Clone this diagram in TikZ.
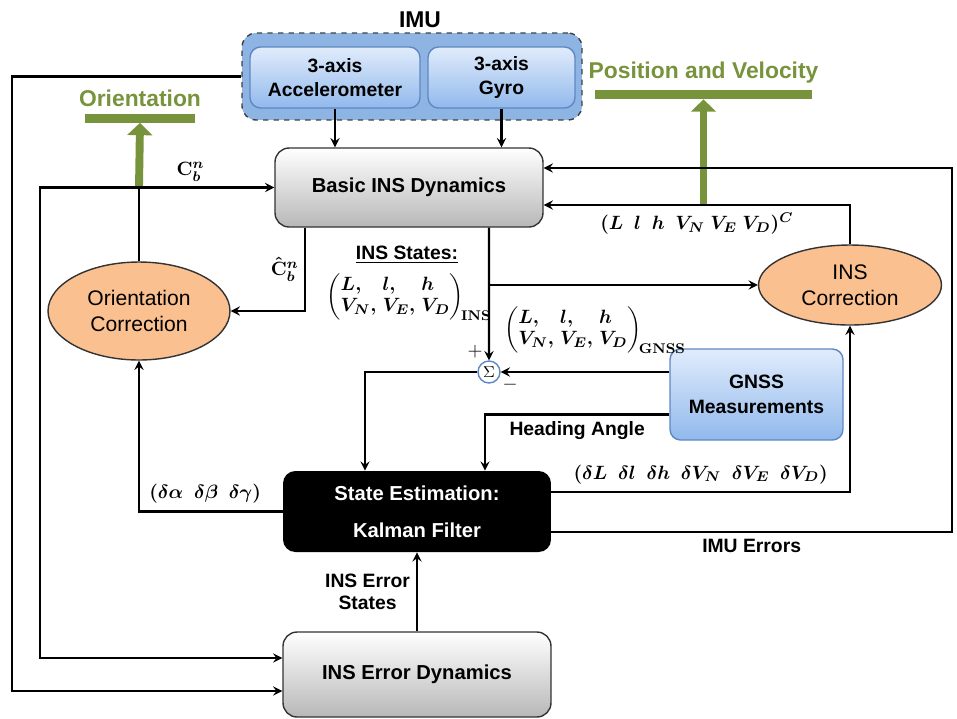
\documentclass[tikz,border=0pt]{standalone}
\usepackage{amsmath}
\usepackage{amssymb}
\usepackage[no-math]{fontspec}
\setmainfont{Liberation Sans}
\usepackage{tikz}
\usetikzlibrary{shapes.geometric, arrows, arrows.meta, positioning, calc}
\definecolor{outgreen}{RGB}{119,147,60}
\definecolor{corrorange}{RGB}{250,192,143}
\definecolor{imublue}{RGB}{141,180,226}
\definecolor{sensortop}{RGB}{225,236,252}
\definecolor{sensorbot}{RGB}{145,185,236}
\definecolor{sensorline}{RGB}{95,135,195}
\tikzstyle{dynbox} = [rectangle, rounded corners=8pt, minimum width=5.36cm, text centered, draw=black!80, line width=0.8pt, top color=white, bottom color=black!28, font=\fontsize{11.5}{14}\selectfont\bfseries]
\tikzstyle{kfbox} = [rectangle, rounded corners=7pt, minimum width=5.36cm, minimum height=1.62cm, align=center, fill=black, text=white, font=\fontsize{11.5}{21}\selectfont\bfseries]
\tikzstyle{sensor} = [rectangle, rounded corners=6pt, align=center, draw=sensorline, line width=0.8pt, top color=sensortop, bottom color=sensorbot, font=\fontsize{11}{14}\selectfont\bfseries]
\tikzstyle{imubox} = [rectangle, rounded corners=8pt, draw=black!75, dashed, line width=0.8pt, fill=imublue]
\tikzstyle{correction} = [ellipse, align=center, draw=black!80, line width=0.8pt, fill=corrorange, inner sep=0pt, font=\fontsize{12}{15}\selectfont]
\tikzstyle{sumnode} = [circle, draw=sensorline, fill=white, line width=0.8pt, minimum size=0.44cm, inner sep=0pt, font=\small]
\tikzstyle{outbar} = [rectangle, fill=outgreen, inner sep=0pt, minimum height=0.18cm]
\tikzstyle{outlbl} = [text=outgreen, font=\fontsize{13}{15}\selectfont\bfseries]
\tikzstyle{lbl} = [font=\fontsize{11}{13}\selectfont\bfseries]
\tikzstyle{mathlbl} = [font=\fontsize{11}{13}\selectfont\boldmath, inner sep=1pt]
\tikzstyle{arrow} = [line width=1.3pt, ->, >=stealth]
\tikzstyle{plain} = [line width=1.3pt]
\tikzstyle{outarrow} = [line width=4.5pt, draw=outgreen, -{Triangle[width=14pt,length=7pt]}]
\newcommand{\statevec}[1]{$\left(\begin{array}{@{}l@{\;}l@{\;}l@{}} L, & l, & h\\[-1pt] V_N, & V_E, & V_D\end{array}\right)_{\!\mathrm{#1}}$}

\begin{document}
\begin{tikzpicture}[x=0.02cm, y=-0.02cm]
\useasboundingbox (0,0) rectangle (957,718);

% IMU
\node (imu) [imubox, minimum width=6.8cm, minimum height=1.74cm] at (412,76.5) {};
\node (imulbl) [outlbl, text=black] at (420,20) {IMU};
\node (acc) [sensor, minimum width=3.4cm, minimum height=1.22cm] at (335,77.5) {3-axis\\Accelerometer};
\node (gyro) [sensor, minimum width=2.94cm, minimum height=1.22cm] at (501.5,77.5) {3-axis\\Gyro};

% Main blocks
\node (basic) [dynbox, minimum height=1.58cm] at (409,187.5) {Basic INS Dynamics};
\node (kalman) [kfbox] at (417,511.5) {State Estimation:\\Kalman Filter};
\node (errdyn) [dynbox, minimum height=1.7cm] at (417,674.5) {INS Error Dynamics};
\node (gnss) [sensor, minimum width=3.46cm, minimum height=1.82cm] at (756.5,394.5) {GNSS\\Measurements};
\node (sum) [sumnode] at (489,372) {$\Sigma$};

% Corrections
\node (orient) [correction, minimum width=3.64cm, minimum height=1.96cm] at (139,311) {Orientation\\Correction};
\node (inscorr) [correction, minimum width=3.66cm, minimum height=1.6cm] at (850,285) {INS\\Correction};

% Outputs
\node (oribar) [outbar, minimum width=2.2cm] at (140,118) {};
\node (orilbl) [outlbl, above=0pt of oribar] {Orientation};
\node (posbar) [outbar, minimum width=4.34cm] at (703.5,94.5) {};
\node (poslbl) [outlbl, above=0pt of posbar] {Position and Velocity};

% State labels
\node (insst) [lbl] at (407,255) {\underline{INS States:}};
\node (insvec) [mathlbl] at (409,297) {\statevec{INS}};
\node (gnssvec) [mathlbl] at (595,330) {\statevec{GNSS}};
\node (plus) [lbl] at (475,352) {$+$};
\node (minus) [lbl] at (510,385) {$-$};

% Lanes
\coordinate (laneA) at (12,0);
\coordinate (laneB) at (40,0);
\coordinate (laneR) at (952,0);
\coordinate (jOri) at (orient.north |- basic.west);
\coordinate (retC) at ([yshift=-0.35cm]basic.east);
\coordinate (retE) at ([yshift=0.39cm]basic.east);
\coordinate (kfE) at ([yshift=-0.41cm]kalman.east);

% Green outputs
\draw [outarrow] (jOri) -- (oribar.south);
\draw [outarrow] (posbar.south |- retC) -- (posbar.south);

% Arrows
\draw [arrow] (acc.south) -- (acc.south |- basic.north);
\draw [arrow] (gyro.south) -- (gyro.south |- basic.north);
\draw [arrow] (imu.west) -- (imu.west -| laneA) |- ([yshift=-0.33cm]errdyn.west);
\draw [plain] (orient.north) -- (jOri);
\draw [arrow] (jOri) -- node[mathlbl, above=2pt, pos=0.38] {$\mathbf{C}_b^n$} (basic.west);
\draw [arrow] (jOri) -- (jOri -| laneB) |- ([yshift=0.33cm]errdyn.west);
\draw [arrow] ([xshift=-2.08cm]basic.south) |- node[mathlbl, left=2pt, pos=0.25] {$\hat{\mathbf{C}}_b^n$} (orient.east);
\draw [arrow] ([xshift=1.6cm]basic.south) -- (sum.north);
\draw [arrow] (sum.north |- inscorr.west) -- (inscorr.west);
\draw [arrow] (sum.east -| gnss.west) -- (sum.east);
\draw [arrow] (sum.west) -| ([xshift=-1.04cm]kalman.north);
\draw [arrow] ([yshift=-0.4cm]gnss.west) -| node[lbl, below, pos=0.25] {Heading Angle} ([xshift=1.36cm]kalman.north);
\draw [arrow] (kalman.west) -| node[mathlbl, above=3pt, pos=0.27] {$(\delta\alpha\ \ \delta\beta\ \ \delta\gamma)$} (orient.south);
\draw [arrow] ([yshift=0.39cm]kalman.east) -| node[mathlbl, above=3pt, pos=0.25] {$(\delta L\ \ \delta l\ \ \delta h\ \ \delta V_N\ \ \delta V_E\ \ \delta V_D)$} (inscorr.south);
\draw [arrow] (kfE) -- node[lbl, below] {IMU Errors} (kfE -| laneR) |- (retE);
\draw [arrow] (inscorr.north) |- node[mathlbl, below=3pt, pos=0.75] {$(L\ \ l\ \ h\ \ V_N\ V_E\ V_D)^C$} (retC);
\draw [arrow] (errdyn.north) -- node[lbl, left, align=center] {INS Error\\States} (kalman.south);

\end{tikzpicture}
\end{document}
